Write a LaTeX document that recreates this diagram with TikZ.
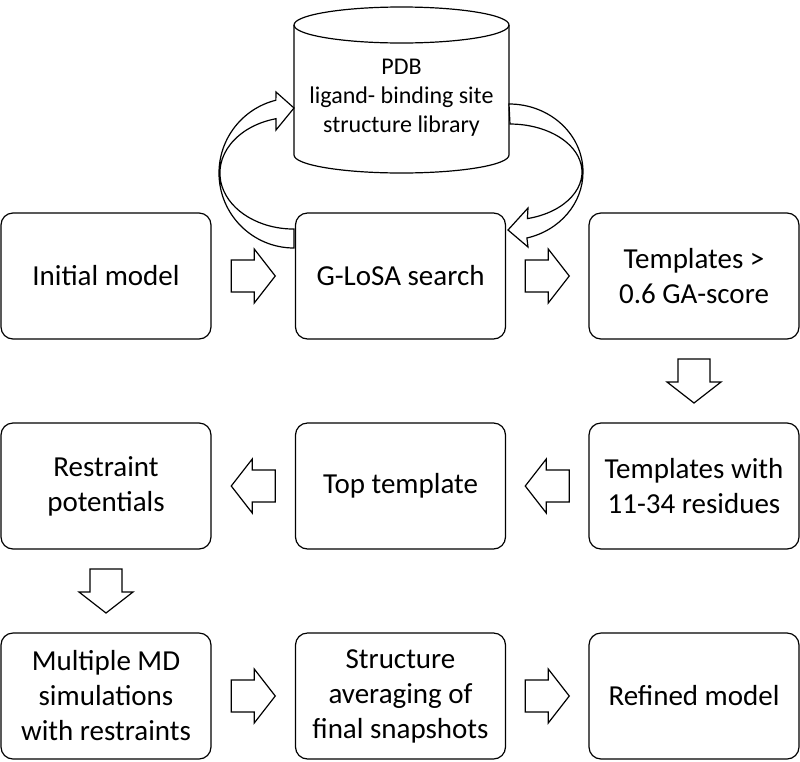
\documentclass[tikz,border=0pt]{standalone}
\usepackage{fontspec}
\setmainfont{Carlito}
\usetikzlibrary{calc}
\tikzset{
  box/.style={draw, line width=1.2pt, rounded corners=12pt, minimum width=210pt, minimum height=126pt,
    inner sep=0pt, align=center, font=\fontsize{29}{35}\selectfont},
  outline/.style={draw, line width=1.2pt, fill=white},
  fatarrow/.pic={\path[outline] (-22,-16) -- (1,-16) -- (1,-27) -- (22,0) -- (1,27) -- (1,16) -- (-22,16) -- cycle;},
}

\begin{document}
\begin{tikzpicture}[x=1pt, y=1pt]
        \useasboundingbox (0,0) rectangle (800,-761);

        % library cylinder
        \draw[line width=1.2pt] (294,-25) -- (294,-155) arc[start angle=180, end angle=360, x radius=107.5, y radius=18] -- (509,-25);
        \draw[line width=1.2pt] (401.5,-25) ellipse [x radius=107.5, y radius=18];
        \node[align=center, font=\fontsize{24}{29}\selectfont] (pdb) at (401.5,-98) {PDB\\ligand- binding site\\structure library};

        % boxes
        \node[box] (init)    at (106,-276)   {Initial model};
        \node[box] (glosa)   at (400.5,-276) {G-LoSA search};
        \node[box] (tmpl)    at (694,-276)   {Templates >\\0.6 GA-score};
        \node[box] (resid)   at (694,-486)   {Templates with\\11-34 residues};
        \node[box] (top)     at (400.5,-486) {Top template};
        \node[box] (restr)   at (106,-486)   {Restraint\\potentials};
        \node[box] (md)      at (106,-696)   {Multiple MD\\simulations\\with restraints};
        \node[box] (avg)     at (400.5,-696) {Structure\\averaging of\\final snapshots};
        \node[box] (refined) at (694,-696)   {Refined model};

        % search loop
        \path[outline, line join=miter] (294,-248) arc[start angle=270, end angle=104, x radius=75, y radius=75]
            -- (276,-92) -- (294,-108) -- (276,-130) -- (276,-118.7)
            arc[start angle=104, end angle=270, x radius=74, y radius=56] -- cycle;
        \path[outline, line join=miter] (509,-104) arc[start angle=90, end angle=-76, x radius=74, y radius=68]
            -- (528,-247) -- (508,-230) -- (528,-208) -- (527.4,-218.6)
            arc[start angle=-76, end angle=90, x radius=72, y radius=48] -- cycle;

        % flow
        \pic at ($(init.east)!0.5!(glosa.west)$) {fatarrow};
        \pic at ($(glosa.east)!0.5!(tmpl.west)$) {fatarrow};
        \pic[rotate=-90] at ($(tmpl.south)!0.5!(resid.north)$) {fatarrow};
        \pic[rotate=180] at ($(resid.west)!0.5!(top.east)$) {fatarrow};
        \pic[rotate=180] at ($(top.west)!0.5!(restr.east)$) {fatarrow};
        \pic[rotate=-90] at ($(restr.south)!0.5!(md.north)$) {fatarrow};
        \pic at ($(md.east)!0.5!(avg.west)$) {fatarrow};
        \pic at ($(avg.east)!0.5!(refined.west)$) {fatarrow};
\end{tikzpicture}
\end{document}
